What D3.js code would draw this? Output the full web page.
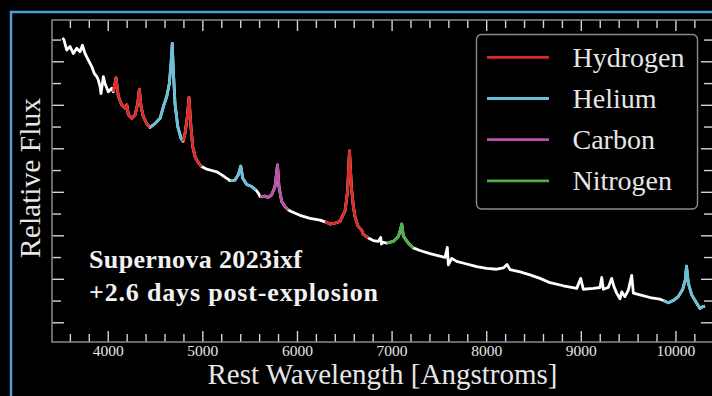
<!DOCTYPE html>
<html>
<head>
<meta charset="utf-8">
<script src="https://cdn.jsdelivr.net/npm/d3@7"></script>
<style>
    html, body { margin: 0; padding: 0; background: #000; }
    svg { display: block; }
</style>
</head>
<body>
<div id="chart"></div>
<script>
// spectrum: rest wavelength (Angstrom) and relative flux
const wavelength = [
    3522, 3538, 3567, 3602, 3636, 3672, 3707, 3732, 3760, 3795,
    3831, 3858, 3884, 3901, 3919, 3929, 3954, 3971, 4006, 4042,
    4059, 4088, 4112, 4148, 4183, 4201, 4218, 4254, 4289, 4317,
    4334, 4352, 4376, 4412, 4447, 4500, 4553, 4588, 4624, 4651,
    4669, 4682, 4693, 4711, 4740, 4775, 4796, 4817, 4841, 4859,
    4877, 4898, 4923, 4957, 4993, 5046, 5099, 5152, 5205, 5258,
    5292, 5345, 5380, 5406, 5427, 5469, 5522, 5567, 5592, 5610,
    5662, 5697, 5733, 5768, 5794, 5810, 5839, 5874, 5909, 5945,
    6032, 6138, 6244, 6296, 6349, 6402, 6455, 6508, 6534, 6555,
    6576, 6596, 6613, 6648, 6684, 6701, 6754, 6807, 6860, 6885,
    6893, 6912, 6948, 7018, 7071, 7092, 7108, 7124, 7177, 7230,
    7300, 7406, 7512, 7565, 7589, 7600, 7635, 7688, 7794, 7900,
    8005, 8111, 8181, 8220, 8252, 8358, 8463, 8569, 8675, 8815,
    8957, 8999, 9026, 9132, 9203, 9221, 9238, 9290, 9326, 9350,
    9379, 9414, 9432, 9466, 9502, 9538, 9555, 9626, 9732, 9837,
    9872, 9925, 9977, 10030, 10077, 10104, 10117, 10136, 10172, 10225,
    10260, 10288, 10313,
]
const flux = [
    7.54, 7.49, 7.26, 7.34, 7.18, 7.30, 7.22, 7.37, 7.18, 7.03,
    6.88, 6.72, 6.65, 6.57, 6.42, 6.26, 6.65, 6.49, 6.30, 6.38,
    6.30, 6.62, 6.19, 6.00, 5.92, 6.00, 5.77, 5.69, 5.77, 6.03,
    6.36, 5.96, 5.73, 5.57, 5.48, 5.57, 5.69, 5.96, 6.19, 6.49,
    6.95, 7.41, 6.80, 6.03, 5.50, 5.23, 5.16, 5.34, 5.73, 6.17,
    5.57, 5.04, 4.81, 4.67, 4.58, 4.52, 4.49, 4.46, 4.39, 4.31,
    4.26, 4.27, 4.39, 4.59, 4.31, 4.17, 4.12, 4.04, 3.97, 3.89,
    3.90, 3.87, 3.93, 4.12, 4.62, 4.12, 3.77, 3.66, 3.58, 3.54,
    3.46, 3.39, 3.35, 3.31, 3.26, 3.28, 3.32, 3.56, 4.00, 4.94,
    4.09, 3.66, 3.43, 3.20, 3.12, 3.02, 2.94, 2.88, 2.86, 2.95,
    2.80, 2.84, 2.82, 2.86, 2.97, 3.12, 3.26, 2.98, 2.82, 2.71,
    2.65, 2.58, 2.52, 2.49, 2.72, 2.32, 2.47, 2.40, 2.34, 2.28,
    2.24, 2.22, 2.25, 2.33, 2.21, 2.16, 2.09, 2.01, 1.91, 1.84,
    1.78, 2.01, 1.76, 1.78, 1.80, 2.03, 1.76, 1.80, 2.01, 1.82,
    1.67, 1.54, 1.70, 1.59, 1.74, 2.08, 1.67, 1.63, 1.57, 1.53,
    1.50, 1.45, 1.50, 1.59, 1.76, 1.97, 2.29, 1.90, 1.63, 1.44,
    1.32, 1.36, 1.37,
]

// wavelength ranges highlighted for each element
const regionElement = ["Hydrogen", "Helium", "Hydrogen", "Helium", "Carbon", "Hydrogen", "Nitrogen", "Helium"]
const regionFrom = [4059, 4447, 4796, 5292, 5610, 6296, 6948, 9872]
const regionTo = [4447, 4796, 4993, 5567, 5909, 6754, 7230, 10313]

const elements = ["Hydrogen", "Helium", "Carbon", "Nitrogen"]
const elementColors = ["#dc2a26", "#68c0d8", "#bb52a6", "#4cb04a"]

const xTicks = [4000, 5000, 6000, 7000, 8000, 9000, 10000]
const annotation = ["Supernova 2023ixf", "+2.6 days post-explosion"]

const width = 712
const height = 396
const plot = {left: 52, right: 713, top: 20, bottom: 342}
const serif = "'Liberation Serif', 'Times New Roman', serif"
const textColor = "#e6e6e6"

const svg = d3
    .select("#chart")
    .append("svg")
    .attr("width", width)
    .attr("height", height)
    .style("background", "#000")

// blue frame around the figure
svg.append("rect")
    .attr("x", 11)
    .attr("y", 12)
    .attr("width", width + 20)
    .attr("height", height + 20)
    .attr("fill", "none")
    .attr("stroke", "#4a9dd6")
    .attr("stroke-width", 2.5)

const x = d3.scaleLinear().domain([3411, 10397]).range([plot.left, plot.right])
const y = d3.scaleLinear().domain([0.547, 7.95]).range([plot.bottom, plot.top])

const color = d3.scaleOrdinal().domain(elements).range(elementColors)

let styleAxis = (g) => {
    g.attr("font-family", serif)
    g.select(".domain").remove()
    g.selectAll(".tick line").attr("stroke", "#d4d4d4").attr("stroke-width", 1.4)
}

let xMinor = d3.range(3600, 10400, 200).filter((v) => v % 1000 !== 0)
let yMajor = d3.range(1, 8, 1)
let yMinor = d3.range(1.5, 8, 1)

// bottom axis with labels, inward ticks
svg.append("g")
    .attr("transform", `translate(0,${plot.bottom})`)
    .call(d3.axisBottom(x).tickValues(xTicks).tickSize(-11).tickPadding(3).tickFormat(d3.format("d")))
    .call(styleAxis)
    .call((g) =>
        g.selectAll(".tick text")
            .attr("fill", textColor)
            .style("font-family", serif)
            .style("font-size", "15.5px"),
    )
svg.append("g")
    .attr("transform", `translate(0,${plot.bottom})`)
    .call(d3.axisBottom(x).tickValues(xMinor).tickSize(-8).tickFormat(""))
    .call(styleAxis)

svg.append("g")
    .attr("transform", `translate(0,${plot.top})`)
    .call(d3.axisTop(x).tickValues(xTicks).tickSize(-11).tickFormat(""))
    .call(styleAxis)
svg.append("g")
    .attr("transform", `translate(0,${plot.top})`)
    .call(d3.axisTop(x).tickValues(xMinor).tickSize(-8).tickFormat(""))
    .call(styleAxis)

svg.append("g")
    .attr("transform", `translate(${plot.left},0)`)
    .call(d3.axisLeft(y).tickValues(yMajor).tickSize(-12).tickFormat(""))
    .call(styleAxis)
svg.append("g")
    .attr("transform", `translate(${plot.left},0)`)
    .call(d3.axisLeft(y).tickValues(yMinor).tickSize(-9).tickFormat(""))
    .call(styleAxis)
svg.append("g")
    .attr("transform", `translate(${plot.right},0)`)
    .call(d3.axisRight(y).tickValues(yMajor).tickSize(-12).tickFormat(""))
    .call(styleAxis)
svg.append("g")
    .attr("transform", `translate(${plot.right},0)`)
    .call(d3.axisRight(y).tickValues(yMinor).tickSize(-9).tickFormat(""))
    .call(styleAxis)

// spines
svg.append("rect")
    .attr("x", plot.left)
    .attr("y", plot.top)
    .attr("width", plot.right - plot.left)
    .attr("height", plot.bottom - plot.top)
    .attr("fill", "none")
    .attr("stroke", "#8a8a8a")
    .attr("stroke-width", 1.5)

const points = wavelength.map((w, i) => ({w, f: flux[i]}))
const line = d3
    .line()
    .x((d) => x(d.w))
    .y((d) => y(d.f))

svg.append("path")
    .datum(points)
    .attr("d", line)
    .attr("fill", "none")
    .attr("stroke", "#ffffff")
    .attr("stroke-width", 2.8)
    .attr("stroke-linejoin", "round")

const regions = regionElement.map((el, i) => ({
    element: el,
    pts: points.filter((p) => p.w >= regionFrom[i] && p.w <= regionTo[i]),
}))

svg.append("g")
    .selectAll("path")
    .data(regions)
    .join("path")
    .attr("d", (d) => line(d.pts))
    .attr("fill", "none")
    .attr("stroke", (d) => color(d.element))
    .attr("stroke-width", 2.8)
    .attr("stroke-linejoin", "round")

// legend
const legend = svg.append("g")
legend.append("rect")
    .attr("x", 476.5)
    .attr("y", 34.5)
    .attr("width", 221)
    .attr("height", 174.5)
    .attr("rx", 5)
    .attr("fill", "#000")
    .attr("fill-opacity", 0.85)
    .attr("stroke", "#8c8c8c")
    .attr("stroke-width", 1.4)

const rows = legend
    .selectAll("g")
    .data(elements)
    .join("g")
    .attr("transform", (d, i) => `translate(0,${57.3 + i * 41.2})`)
rows.append("line")
    .attr("x1", 487)
    .attr("x2", 549)
    .attr("stroke", (d) => color(d))
    .attr("stroke-width", 2.8)
rows.append("text")
    .attr("x", 572.5)
    .attr("y", 9.5)
    .attr("fill", textColor)
    .style("font-family", serif)
    .style("font-size", "28px")
    .text((d) => d)

// axis titles
svg.append("text")
    .attr("x", (plot.left + plot.right) / 2)
    .attr("y", 384)
    .attr("text-anchor", "middle")
    .attr("fill", textColor)
    .style("font-family", serif)
    .style("font-size", "29px")
    .text("Rest Wavelength [Angstroms]")

svg.append("text")
    .attr("transform", "translate(40,178) rotate(-90)")
    .attr("text-anchor", "middle")
    .attr("fill", textColor)
    .style("font-family", serif)
    .style("font-size", "29.5px")
    .text("Relative Flux")

let annotationWidth = [213, 289]
svg.append("g")
    .selectAll("text")
    .data(annotation)
    .join("text")
    .attr("x", 89)
    .attr("y", (d, i) => 268 + i * 32.5)
    .attr("textLength", (d, i) => annotationWidth[i])
    .attr("fill", "#f2f2f2")
    .style("font-family", serif)
    .style("font-weight", "bold")
    .style("font-size", "26px")
    .text((d) => d)
</script>
</body>
</html>
